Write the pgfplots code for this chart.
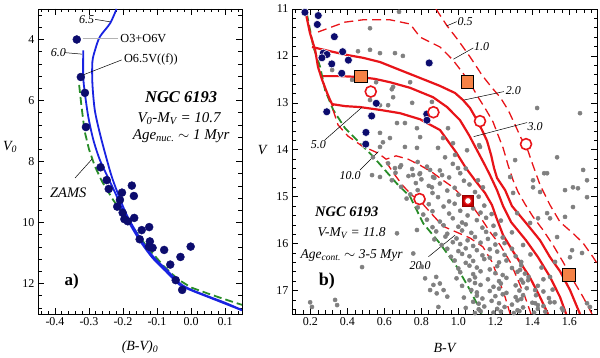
\documentclass[border=0pt]{standalone}
\usepackage{fontspec}
\setmainfont{Liberation Serif}
\usepackage{pgfplots}
\pgfplotsset{compat=1.18}

\definecolor{isored}{RGB}{232,20,25}
\definecolor{isoblue}{RGB}{25,35,225}
\definecolor{zams}{RGB}{40,140,40}
\definecolor{navy}{RGB}{12,12,110}
\definecolor{dotgray}{RGB}{128,128,128}
\definecolor{sqorange}{RGB}{245,130,70}

\tikzset{lbl/.style={font=\fontsize{12}{14}\selectfont\itshape},
  leader/.style={black, line width=0.5pt}}

\pgfplotsset{
  cmdpanel/.style={
    scale only axis, anchor=south west,
    tick align=inside, xtick pos=both, ytick pos=both,
    major tick length=6pt, minor tick length=3.5pt,
    every tick/.style={black, line width=0.6pt},
    axis line style={line width=0.8pt},
    /pgf/number format/assume math mode=true,
    label style={font=\fontsize{14}{16}\selectfont\itshape},
  },
  red solid/.style={isored, line width=2.2pt, line join=round},
  red dashed/.style={isored, line width=1.3pt, dash pattern=on 9pt off 5pt},
  zams line/.style={zams, line width=1.8pt, dash pattern=on 8pt off 4pt},
}

\begin{document}
\begin{tikzpicture}
\useasboundingbox (0,0) rectangle (600pt,358pt);

% ---------------- panel a ----------------
\begin{axis}[cmdpanel, at={(38pt,44pt)}, width=204pt, height=305pt,
  xmin=-0.45, xmax=0.15, ymin=3, ymax=13, y dir=reverse,
  xtick={-0.4,-0.3,-0.2,-0.1,0,0.1},
  xticklabels={-0.4,-0.3,-0.2,-0.1,0.0,0.1},
  ytick={4,6,8,10,12},
  minor xtick={-0.44,-0.42,...,0.15},
  minor ytick={3.2,3.6,...,12.9},
  tick label style={font=\fontsize{12}{14}\selectfont},
  xlabel={(B-V)\textsubscript{0}},
  ylabel={V\textsubscript{0}},
  xlabel style={at={(axis description cs:0.5,-0.108)}, anchor=center},
  ylabel style={at={(axis description cs:-0.137,0.549)}, anchor=center, rotate=-90},
]
% ZAMS
\addplot[zams line] coordinates {
(-0.329,5.49) (-0.322,6.2) (-0.313,7.0) (-0.300,7.6) (-0.283,8.15) (-0.262,8.65)
(-0.229,9.26) (-0.179,10.03) (-0.130,10.79) (-0.081,11.42) (-0.040,11.85)
(0.0,12.13) (0.05,12.33) (0.10,12.52) (0.15,12.70)};
% isochrone log t = 6.5
\addplot[isoblue, line width=1.8pt, smooth] coordinates {
(-0.219,3.0) (-0.238,3.47) (-0.268,3.91) (-0.282,4.34) (-0.290,4.73) (-0.290,5.44)
(-0.283,6.31) (-0.268,7.08) (-0.250,7.84) (-0.233,8.50) (-0.215,9.05) (-0.189,9.75)
(-0.150,10.52) (-0.111,11.12) (-0.071,11.56) (-0.032,12.0) (0.0,12.2) (0.05,12.42)
(0.10,12.63) (0.15,12.87)};
% isochrone log t = 6.0
\addplot[isoblue, line width=1.8pt, smooth] coordinates {
(-0.317,4.36) (-0.317,5.22) (-0.312,5.77) (-0.302,6.54) (-0.287,7.30) (-0.268,7.95)
(-0.243,8.55) (-0.220,9.1) (-0.192,9.8) (-0.153,10.55) (-0.114,11.15) (-0.074,11.6)
(-0.035,12.03) (0.0,12.22) (0.05,12.44) (0.10,12.66) (0.15,12.88)};
% stars
\addplot[only marks, mark=*, mark size=4.0pt, navy] coordinates {
(-0.336,4.00) (-0.324,5.23) (-0.312,5.75) (-0.309,6.87) (-0.266,8.19) (-0.248,8.61)
(-0.242,8.90) (-0.174,8.79) (-0.203,9.02) (-0.168,9.13) (-0.209,9.26) (-0.217,9.48)
(-0.201,9.68) (-0.196,9.89) (-0.186,9.96) (-0.167,9.85) (-0.145,10.25) (-0.123,10.15)
(-0.151,10.55) (-0.121,10.62) (-0.124,10.79) (-0.113,10.83) (-0.079,10.90)
(-0.001,10.79) (-0.031,11.13) (-0.061,11.38) (-0.045,11.89) (-0.026,12.21)};

\draw[gray!60, line width=1pt] (axis cs:-0.319,3.98) -- (axis cs:-0.215,3.98);
\node[font=\fontsize{12.3}{14}\selectfont] at (axis cs:-0.140,3.98) {O3+O6V};
\draw[leader] (axis cs:-0.204,4.67) -- (axis cs:-0.317,5.16);
\node[font=\fontsize{12.3}{14}\selectfont] at (axis cs:-0.118,4.67) {O6.5V((f))};
\node[lbl] at (axis cs:-0.307,3.34) {6.5};
\draw[leader] (axis cs:-0.282,3.34) -- (axis cs:-0.238,3.42);
\node[lbl] at (axis cs:-0.390,4.43) {6.0};
\draw[leader] (axis cs:-0.371,4.43) -- (axis cs:-0.321,4.48);
\node[font=\fontsize{14.5}{16}\selectfont\itshape] at (axis cs:-0.361,9.02) {ZAMS};
\draw[leader] (axis cs:-0.341,8.54) -- (axis cs:-0.291,7.92);
\node[font=\fontsize{16.5}{18}\selectfont\bfseries\itshape] at (axis cs:-0.029,5.89) {NGC 6193};
\node[font=\fontsize{15}{17}\selectfont\itshape] at (axis cs:-0.035,6.58) {V\textsubscript{0}-M\textsubscript{V} = 10.7};
\node[font=\fontsize{15}{17}\selectfont\itshape] at (axis cs:-0.029,7.16) {Age\textsubscript{nuc.} $\sim$ 1 Myr};
\node[font=\fontsize{17}{19}\selectfont\bfseries] at (axis cs:-0.351,11.94) {a)};
\end{axis}

% ---------------- panel b ----------------
\begin{axis}[cmdpanel, at={(292pt,44pt)}, width=305pt, height=305pt,
  xmin=0.1, xmax=1.75, ymin=11, ymax=17.5, y dir=reverse,
  xtick={0.2,0.4,...,1.61}, ytick={11,12,...,17},
  minor xtick={0.12,0.16,...,1.74},
  minor ytick={11.2,11.4,...,17.45},
  xticklabel style={/pgf/number format/.cd, fixed, fixed zerofill, precision=1},
  tick label style={font=\fontsize{12}{14}\selectfont},
  xlabel={B-V}, ylabel={V},
  xlabel style={at={(axis description cs:0.5,-0.111)}, anchor=center},
  ylabel style={at={(axis description cs:-0.098,0.538)}, anchor=center, rotate=-90},
]
% field / cluster photometry
\addplot[only marks, mark=*, mark size=2.1pt, dotgray] coordinates {
(0.679,11.06) (0.522,11.41) (0.457,11.90) (0.522,11.87) (0.576,11.94) (0.657,11.94)
(0.700,12.00) (0.317,12.30) (0.425,12.51) (0.555,12.56) (0.647,12.66) (0.739,12.56)
(0.522,12.94) (0.576,13.05) (0.620,13.05) (0.647,12.88) (0.750,13.00) (0.857,12.98)
(0.668,13.43) (0.711,13.43) (0.776,13.54) (0.576,13.64) (0.793,13.73) (0.630,13.75)
(0.711,13.94) (0.776,13.96) (0.576,13.94) (0.890,13.96) (0.928,14.16) (0.847,14.43)
(0.912,14.54) (0.657,14.39) (0.684,14.37) (0.592,13.84) (0.538,14.16) (0.944,13.54)
(0.917,13.75) (1.047,14.01) (1.117,13.94) (1.426,13.11) (1.658,13.22) (1.534,14.16)
(1.480,14.50) (1.620,14.80) (0.755,14.54) (0.793,14.50) (0.857,14.80) (0.863,14.58)
(0.998,14.39) (1.106,14.65) (1.133,14.80) (1.307,14.22) (1.404,14.65) (1.112,13.90)
(0.971,13.86) (0.982,14.11) (1.280,14.58) (1.464,14.50) (1.675,14.43) (1.577,14.86)
(1.647,14.82) (1.696,15.01) (1.442,14.90) (1.620,15.22) (1.577,15.43) (1.496,15.46)
(1.669,16.20) (1.615,16.14) (1.523,16.39) (1.496,16.71) (1.415,16.99) (1.496,17.25)
(1.415,17.27) (1.350,17.10) (1.696,17.27) (1.566,17.42) (1.377,16.78) (1.334,16.56)
(1.318,15.35) (1.388,15.56) (1.431,15.46) (1.534,15.86) (1.604,16.29) (1.712,17.35)
(1.696,14.65) (1.404,14.80) (1.296,14.92) (1.480,15.35) (0.533,14.54) (0.576,14.58)
(0.668,15.78) (0.776,15.71) (0.479,16.50) (0.198,17.25) (0.208,17.35) (0.333,17.20)
(0.344,17.31) (0.756,16.21) (0.802,16.49) (0.820,16.74) (0.865,16.88) (0.883,17.06)
(0.847,16.99) (0.892,17.35) (0.880,16.71) (0.900,16.85) (0.920,16.99) (0.940,17.13)
(0.640,12.71)
(0.62,14.29) (0.69,14.33) (0.78,14.26) (0.83,14.36) (0.97,14.30)
(0.66,14.49) (0.75,14.41) (0.79,14.52) (0.90,14.44) (1.01,14.50) (1.04,14.40)
(0.64,14.65) (0.73,14.56) (0.80,14.63) (0.87,14.60) (0.95,14.59) (1.03,14.66)
(0.69,14.79) (0.77,14.71) (0.84,14.77) (0.90,14.72) (0.98,14.81) (1.06,14.74)
(0.74,14.95) (0.78,14.86) (0.86,14.92) (0.94,14.87) (1.00,14.96) (1.09,14.90)
(0.72,15.04) (0.81,15.08) (0.89,15.01) (0.95,15.10) (1.05,15.05) (1.11,15.00)
(0.78,15.23) (0.84,15.16) (0.92,15.21) (0.98,15.15) (1.08,15.25) (1.14,15.19)
(0.81,15.38) (0.86,15.31) (0.95,15.36) (1.01,15.30) (1.05,15.40) (1.12,15.34) (1.18,15.37)
(0.83,15.49) (0.90,15.53) (0.97,15.46) (1.02,15.55) (1.10,15.50) (1.15,15.45) (1.23,15.51)
(0.86,15.65) (0.92,15.61) (1.00,15.64) (1.04,15.59) (1.13,15.66) (1.19,15.62)
(0.88,15.74) (0.94,15.79) (1.02,15.72) (1.07,15.77) (1.15,15.75) (1.20,15.80) (1.29,15.76)
(0.87,15.91) (0.93,15.85) (0.99,15.89) (1.05,15.93) (1.09,15.86) (1.16,15.90) (1.24,15.87)
(0.91,16.03) (0.97,15.97) (1.01,16.01) (1.08,16.05) (1.12,15.98) (1.20,16.02) (1.25,15.99) (1.35,16.03)
(0.94,16.11) (1.00,16.16) (1.04,16.10) (1.10,16.14) (1.17,16.12) (1.21,16.17) (1.29,16.11)
(0.96,16.28) (1.02,16.22) (1.06,16.27) (1.13,16.25) (1.17,16.30) (1.25,16.24) (1.31,16.27) (1.39,16.23)
(0.98,16.36) (1.04,16.41) (1.08,16.37) (1.14,16.33) (1.22,16.40) (1.26,16.36) (1.34,16.39)
(1.00,16.53) (1.06,16.47) (1.10,16.51) (1.17,16.55) (1.21,16.48) (1.29,16.52) (1.34,16.46) (1.45,16.51)
(1.01,16.61) (1.08,16.65) (1.12,16.59) (1.20,16.63) (1.24,16.67) (1.32,16.60) (1.36,16.64)
(0.99,16.74) (1.06,16.78) (1.09,16.72) (1.16,16.76) (1.22,16.80) (1.26,16.73) (1.34,16.77) (1.38,16.71) (1.46,16.76)
(1.02,16.90) (1.09,16.84) (1.12,16.88) (1.19,16.92) (1.23,16.85) (1.31,16.89) (1.35,16.83) (1.43,16.90)
(1.07,16.99) (1.10,17.04) (1.17,17.01) (1.22,16.96) (1.26,17.05) (1.33,17.00) (1.37,16.95) (1.46,17.02) (1.51,16.98)
(1.03,17.15) (1.10,17.11) (1.13,17.17) (1.20,17.12) (1.24,17.08) (1.31,17.14) (1.34,17.18) (1.42,17.10) (1.49,17.16)
(1.08,17.24) (1.11,17.28) (1.18,17.22) (1.22,17.27) (1.29,17.30) (1.32,17.21) (1.40,17.26) (1.43,17.31) (1.52,17.25)
(1.04,17.37) (1.11,17.40) (1.14,17.34) (1.21,17.39) (1.25,17.35) (1.32,17.42) (1.35,17.36) (1.43,17.39) (1.46,17.33) (1.56,17.38)
(1.09,17.48) (1.12,17.44) (1.19,17.47) (1.23,17.45) (1.30,17.48) (1.33,17.44) (1.41,17.47) (1.47,17.45)};

% ZAMS
\addplot[zams line] coordinates {
(0.180,11.09) (0.215,11.80) (0.252,12.23) (0.279,12.73) (0.323,13.15) (0.387,13.54)
(0.450,13.79) (0.540,14.15) (0.667,14.72) (0.739,15.00) (0.810,15.57) (0.901,16.00)
(0.991,16.49) (1.063,16.99) (1.127,17.49)};
% upper main sequence common to the solid isochrones
\addplot[red solid] coordinates {
(0.170,11.00) (0.197,11.51) (0.225,11.87) (0.241,12.24) (0.263,12.51) (0.290,12.79)
(0.306,12.94) (0.322,13.07)};
% 2.0 Myr
\addplot[red solid] coordinates {
(0.208,11.81) (0.306,11.90) (0.398,11.98) (0.484,12.04) (0.576,12.13) (0.684,12.30)
(0.793,12.47) (0.901,12.64) (0.982,12.79) (1.025,12.94) (1.063,13.11) (1.101,13.37)
(1.128,13.58) (1.155,13.81) (1.177,14.11) (1.193,14.39) (1.209,14.60) (1.253,14.86)
(1.290,15.20) (1.366,15.56) (1.442,15.93) (1.496,16.29) (1.550,16.59) (1.604,16.99)
(1.658,17.50)};
% 3.0 Myr
\addplot[red solid] coordinates {
(0.268,12.43) (0.360,12.43) (0.468,12.45) (0.549,12.49) (0.630,12.56) (0.739,12.68)
(0.863,12.88) (0.939,13.09) (1.009,13.37) (1.058,13.69) (1.101,14.01) (1.144,14.33)
(1.171,14.54) (1.209,14.86) (1.242,15.20) (1.285,15.54) (1.366,15.93) (1.431,16.29)
(1.496,16.71) (1.550,17.14) (1.583,17.50)};
% 5.0 Myr
\addplot[red solid] coordinates {
(0.322,13.03) (0.387,13.07) (0.468,13.09) (0.576,13.15) (0.684,13.22) (0.793,13.35)
(0.901,13.58) (0.987,14.05) (1.041,14.39) (1.090,14.65) (1.144,14.92) (1.182,15.18)
(1.204,15.43) (1.242,15.82) (1.312,16.27) (1.383,16.69) (1.437,17.10) (1.485,17.50)};
% 0.5 Myr
\addplot[red dashed] coordinates {
(0.879,11.00) (0.939,11.36) (0.998,11.66) (1.063,12.02) (1.128,12.41) (1.182,12.68)
(1.226,12.88) (1.269,13.15) (1.307,13.47) (1.339,13.75) (1.366,13.90) (1.399,14.28)
(1.442,14.75) (1.496,15.18) (1.550,15.54) (1.620,15.78) (1.675,15.99) (1.729,16.29)
(1.750,16.42)};
% 1.0 Myr
\addplot[red dashed] coordinates {
(0.241,11.49) (0.317,11.38) (0.387,11.28) (0.484,11.23) (0.630,11.23) (0.739,11.32)
(0.793,11.60) (0.901,11.81) (0.971,12.09) (1.020,12.34) (1.063,12.58) (1.107,12.88)
(1.150,13.15) (1.188,13.41) (1.215,13.69) (1.242,13.96) (1.269,14.33) (1.296,14.65)
(1.323,14.90) (1.361,15.16) (1.404,15.43) (1.458,15.71) (1.512,16.03) (1.566,16.39)
(1.621,16.78) (1.675,17.14) (1.723,17.50)};
% 10.0 Myr
\addplot[red dashed] coordinates {
(0.322,13.15) (0.349,13.47) (0.403,13.71) (0.479,13.92) (0.565,14.07) (0.609,14.20)
(0.663,14.13) (0.728,14.20) (0.793,14.33) (0.858,14.48) (0.917,14.65) (0.971,14.80)
(1.025,15.01) (1.079,15.22) (1.123,15.46) (1.171,15.75) (1.226,16.03) (1.280,16.39)
(1.323,16.78) (1.361,17.14) (1.393,17.50)};
% 20.0 Myr
\addplot[red dashed] coordinates {
(0.609,14.26) (0.657,14.54) (0.701,14.77) (0.749,14.97) (0.793,15.09) (0.847,15.33)
(0.917,15.63) (0.987,15.75) (1.063,15.88) (1.133,16.07) (1.182,16.39) (1.220,16.78)
(1.253,17.14) (1.280,17.50)};

% OB stars
\addplot[only marks, mark=*, mark size=4.0pt, navy, mark options={draw=white, line width=0.5pt}] coordinates {
(0.170,11.07) (0.242,11.14) (0.237,11.33) (0.329,11.59) (0.269,11.94) (0.289,11.97)
(0.262,12.04) (0.374,11.91) (0.405,12.09) (0.315,12.17) (0.369,12.37) (0.556,13.01)
(0.288,13.19) (0.531,13.28) (0.500,13.63) (0.499,13.88) (0.842,12.15) (0.829,13.24)
(0.830,13.37)};
% pre-main-sequence candidates
\addplot[only marks, mark=square*, mark size=6.2pt, mark options={fill=sqorange, draw=black, line width=0.8pt}] coordinates {
(0.473,12.43) (1.050,12.55) (1.599,16.67)};
\addplot[only marks, mark=square*, mark size=5.8pt, mark options={fill=red!75!black, draw=red!60!black, line width=0.8pt}] coordinates {
(1.052,15.09)};
\addplot[only marks, mark=*, mark size=5.5pt, mark options={fill=white, draw=isored, line width=1.6pt}] coordinates {
(0.526,12.76) (0.865,13.20) (1.117,13.39) (1.366,13.88) (0.790,15.05)};
\addplot[only marks, mark=*, mark size=3.6pt, mark options={fill=white, draw=isored, line width=1.2pt}] coordinates {
(1.052,15.09)};

% isochrone labels
\node[lbl] at (axis cs:1.036,11.27) {0.5};
\draw[leader] (axis cs:0.991,11.27) -- (axis cs:0.937,11.36);
\node[lbl] at (axis cs:1.126,11.80) {1.0};
\draw[leader] (axis cs:1.081,11.83) -- (axis cs:0.973,12.07);
\node[lbl] at (axis cs:1.297,12.73) {2.0};
\draw[leader] (axis cs:1.246,12.76) -- (axis cs:1.030,12.94);
\node[lbl] at (axis cs:1.415,13.51) {3.0};
\draw[leader] (axis cs:1.372,13.42) -- (axis cs:1.083,13.72);
\node[lbl] at (axis cs:0.242,13.90) {5.0};
\draw[leader] (axis cs:0.278,13.79) -- (axis cs:0.477,13.10);
\node[lbl] at (axis cs:0.414,14.54) {10.0};
\draw[leader] (axis cs:0.468,14.43) -- (axis cs:0.567,14.04);
\node[lbl] at (axis cs:0.793,16.46) {20.0};
\draw[leader] (axis cs:0.838,16.28) -- (axis cs:0.982,15.82);

\node[font=\fontsize{14.5}{16}\selectfont\bfseries\itshape] at (axis cs:0.396,15.32) {NGC 6193};
\node[font=\fontsize{13.5}{15}\selectfont\itshape] at (axis cs:0.423,15.78) {V-M\textsubscript{V} = 11.8};
\node[font=\fontsize{13.5}{15}\selectfont\itshape] at (axis cs:0.423,16.25) {Age\textsubscript{cont.} $\sim$ 3-5 Myr};
\node[font=\fontsize{18}{20}\selectfont\bfseries] at (axis cs:0.288,16.81) {b)};
\end{axis}
\end{tikzpicture}
\end{document}
